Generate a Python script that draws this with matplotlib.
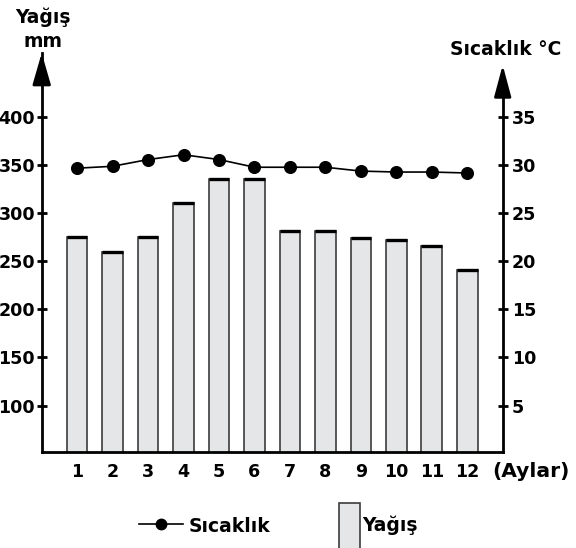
import matplotlib
matplotlib.use("Agg")
import matplotlib.pyplot as plt
from matplotlib.lines import Line2D
from matplotlib.patches import Rectangle

plt.rcParams['font.family'] = 'Arimo'
plt.rcParams['font.weight'] = 'bold'

months = [1, 2, 3, 4, 5, 6, 7, 8, 9, 10, 11, 12]
month_labels = ['1', '2', '3', '4', '5', '6', '7', '8', '9', '10', '11', '12']
rain_mm = [275, 260, 275, 311, 336, 336, 282, 282, 274, 272, 266, 241]
temp_c = [29.7, 29.9, 30.6, 31.1, 30.6, 29.8, 29.8, 29.8, 29.4, 29.3, 29.3, 29.2]
rain_ticks = [100, 150, 200, 250, 300, 350, 400]
temp_ticks = [5, 10, 15, 20, 25, 30, 35]

W, H = 576, 548
fig = plt.figure(figsize=(W / 100, H / 100), dpi=100)

def fx(px):
    return px / W

def fy(py):
    return 1 - py / H

FS = 13.5
BOLD = dict(family='Arimo', fontweight='bold', fontsize=FS)
TICK = dict(family='Arimo', fontweight='bold', fontsize=12.6)

ax_left, ax_right, ax_bot, ax_top = 41.7, 502.7, 452.3, 53.0
ax = fig.add_axes([fx(ax_left), fy(ax_bot), fx(ax_right - ax_left), (ax_bot - ax_top) / H])

mm_lo, mm_hi = 51.3, 466.9
ax.set_xlim(0, 13)
ax.set_ylim(mm_lo, mm_hi)

bar_fill = '#e5e6e8'
ax.bar(months, rain_mm, width=0.58, color=bar_fill, edgecolor='#3c3c3c', linewidth=1.2, zorder=2)
ax.hlines(rain_mm, [m - 0.29 for m in months], [m + 0.29 for m in months], colors='black', linewidth=2.4, zorder=3)

for s in ['top', 'right']:
    ax.spines[s].set_visible(False)
for s in ['left', 'bottom']:
    ax.spines[s].set_linewidth(2.0)
ax.set_yticks(rain_ticks)
ax.set_yticklabels([str(t) for t in rain_ticks], **TICK)
ax.tick_params(axis='y', direction='inout', length=6.5, width=2.0, pad=1.5)
ax.set_xticks(months)
ax.set_xticklabels(month_labels, **TICK)
ax.tick_params(axis='x', length=0, pad=7.5)

ax2 = ax.twinx()
t_lo, t_hi = (mm_lo - 50) / 10, (mm_hi - 50) / 10
ax2.set_ylim(t_lo, t_hi)
for s in ['top', 'left', 'bottom']:
    ax2.spines[s].set_visible(False)
ax2.spines['right'].set_linewidth(2.0)
r_tip = 40.44
ax2.spines['right'].set_bounds(t_lo, r_tip - 1.0)
ax2.set_yticks(temp_ticks)
ax2.set_yticklabels([str(t) for t in temp_ticks], **TICK)
ax2.tick_params(axis='y', direction='inout', length=6.5, width=2.0, pad=3.4)

ax2.plot(months, temp_c, color='black', linewidth=1.2, marker='o', markersize=8.4, zorder=5)

# arrow heads
ax.annotate('', xy=(0, mm_hi), xytext=(0, mm_hi - 27 / 0.9607),
            arrowprops=dict(arrowstyle='-|>,head_length=19.4,head_width=5.6', mutation_scale=1,
                            color='black', lw=2.0, shrinkA=0, shrinkB=0),
            annotation_clip=False)
ax2.annotate('', xy=(13, r_tip), xytext=(13, r_tip - 2.81),
             arrowprops=dict(arrowstyle='-|>,head_length=19.4,head_width=5.2', mutation_scale=1,
                             color='black', lw=2.0, shrinkA=0, shrinkB=0),
             annotation_clip=False)

# axis titles
fig.text(fx(43), fy(22.7), 'Yağış', ha='center', va='baseline', **BOLD)
fig.text(fx(43), fy(46.7), 'mm', ha='center', va='baseline', **BOLD)
fig.text(fx(506), fy(55), 'Sıcaklık °C', ha='center', va='baseline', **BOLD)
fig.text(fx(492.7), fy(477.3), '(Aylar)', ha='left', va='baseline', family='Arimo', fontweight='bold', fontsize=14.6)

# legend
fig.add_artist(Line2D([fx(139), fx(183)], [fy(524.3), fy(524.3)], color='black', linewidth=1.2))
fig.add_artist(Line2D([fx(160.7)], [fy(524.3)], color='black', marker='o', markersize=7.5))
fig.text(fx(188.3), fy(532.5), 'Sıcaklık', ha='left', va='baseline', **BOLD)
fig.add_artist(Rectangle((fx(339.3), fy(552)), fx(360) - fx(339.3), fy(503.3) - fy(552),
                         facecolor=bar_fill, edgecolor='#3c3c3c', linewidth=1.2))
fig.text(fx(362.7), fy(531), 'Yağış', ha='left', va='baseline', **BOLD)

fig.savefig('out.png', dpi=100)
